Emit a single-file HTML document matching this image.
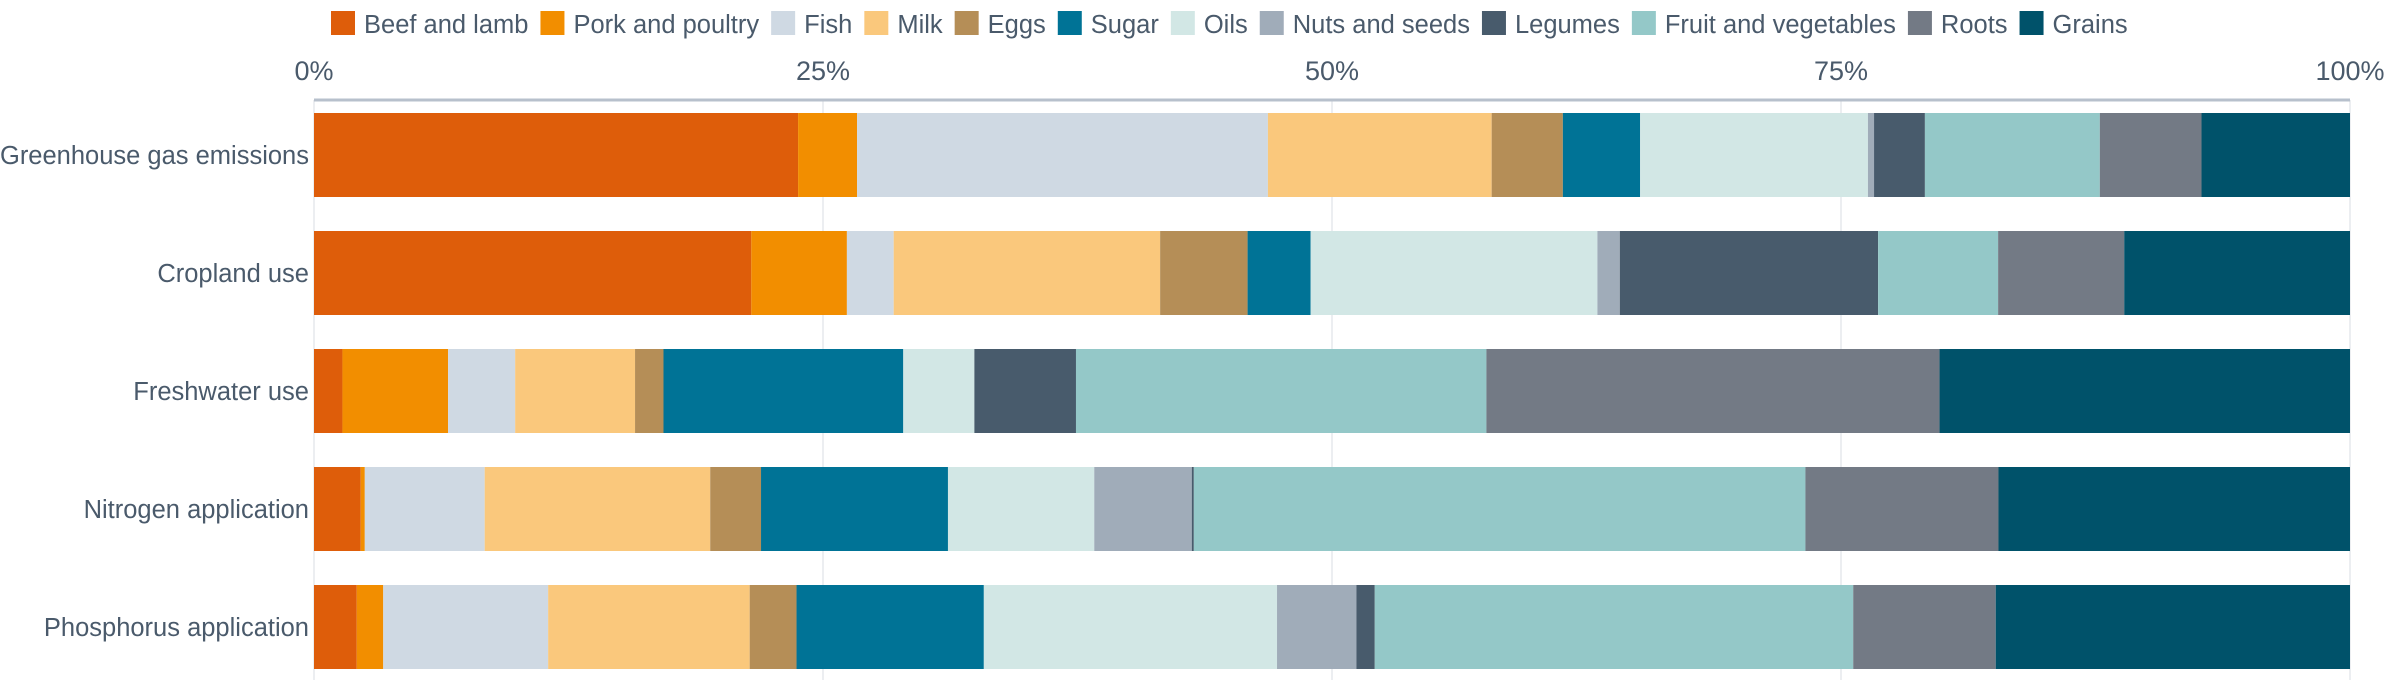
<!DOCTYPE html>
<html><head><meta charset="utf-8"><style>
html,body{margin:0;padding:0;background:#fff;width:2400px;height:700px;overflow:hidden}
svg text{font-family:"Liberation Sans",sans-serif;fill:#4a5a6b}
</style></head><body>
<svg id="chart" width="2400" height="700" xmlns="http://www.w3.org/2000/svg"></svg>
<script>
const categories = ["Greenhouse gas emissions","Cropland use","Freshwater use","Nitrogen application","Phosphorus application"];
const seriesNames = ["Beef and lamb","Pork and poultry","Fish","Milk","Eggs","Sugar","Oils","Nuts and seeds","Legumes","Fruit and vegetables","Roots","Grains"];
const seriesColors = ["#DE5D0A","#F28E00","#CFD9E3","#FAC87C","#B58E57","#007396","#D2E7E5","#A0ACB9","#485B6C","#94C8C8","#737A85","#00526A"];
const ghgValues = [23.8,2.9,20.2,11.0,3.5,3.8,11.2,0.3,2.5,8.6,5.0,7.3];
const croplandValues = [21.5,4.7,2.3,13.1,4.3,3.1,14.1,1.1,12.7,5.9,6.2,11.1];
const freshwaterValues = [1.4,5.2,3.3,5.9,1.4,11.8,3.5,0,5.0,20.2,22.3,20.2];
const nitrogenValues = [2.3,0.2,5.9,11.1,2.5,9.2,7.2,4.8,0.1,30.1,9.5,17.3];
const phosphorusValues = [2.1,1.3,8.1,9.9,2.3,9.2,14.4,3.9,0.9,23.5,7.0,17.4];
const rows = [ghgValues,croplandValues,freshwaterValues,nitrogenValues,phosphorusValues];
const tickValues = [0,25,50,75,100];
const tickLabels = ["0%","25%","50%","75%","100%"];

const NS="http://www.w3.org/2000/svg";
const svg=document.getElementById('chart');
const X0=314,X1=2350,axisY=100,rowTop=113,rowStep=118,barH=84,bottom=680;
function xScale(v){return X0+(X1-X0)*v/100;}
function yScale(i){return rowTop+i*rowStep;}
function mk(tag,attrs){const e=document.createElementNS(NS,tag);for(const k in attrs)e.setAttribute(k,attrs[k]);svg.appendChild(e);return e;}

tickValues.forEach((t,i)=>{
  const g=mk('line',{x1:xScale(t),x2:xScale(t),y1:axisY,y2:bottom,stroke:'#eceef1','stroke-width':2});
  
  
  const tx=mk('text',{x:xScale(t),y:80,'font-size':27,'text-anchor':'middle'});
  tx.textContent=tickLabels[i];
  
  
});
const ax=mk('line',{x1:X0,x2:X1,y1:axisY,y2:axisY,stroke:'#b7c0cc','stroke-width':3});



rows.forEach((vals,r)=>{
  const total=vals.reduce((a,b)=>a+b,0);
  let acc=0;
  vals.forEach((v,s)=>{
    const a=acc/total*100, b=(acc+v)/total*100;
    const rc=mk('rect',{x:xScale(a),y:yScale(r),width:Math.max(0,xScale(b)-xScale(a)),height:barH,fill:seriesColors[s]});
    
    
    acc+=v;
  });
  const lb=mk('text',{x:309,y:yScale(r)+barH/2+9,'font-size':25.5,'text-anchor':'end'});
  lb.textContent=categories[r];
  
  
});

let lx=331;
seriesNames.forEach((n,s)=>{
  const g=document.createElementNS(NS,'g');svg.appendChild(g);
  
  
  const r=document.createElementNS(NS,'rect');
  r.setAttribute('x',lx);r.setAttribute('y',11);r.setAttribute('width',24);r.setAttribute('height',24);r.setAttribute('fill',seriesColors[s]);
  
  
  g.appendChild(r);
  const t=document.createElementNS(NS,'text');
  t.setAttribute('x',lx+33);t.setAttribute('y',33);t.setAttribute('font-size',25.5);
  t.textContent=n;
  
  
  g.appendChild(t);
  lx = lx+33+t.getComputedTextLength()+12;
});
</script>
</body></html>
